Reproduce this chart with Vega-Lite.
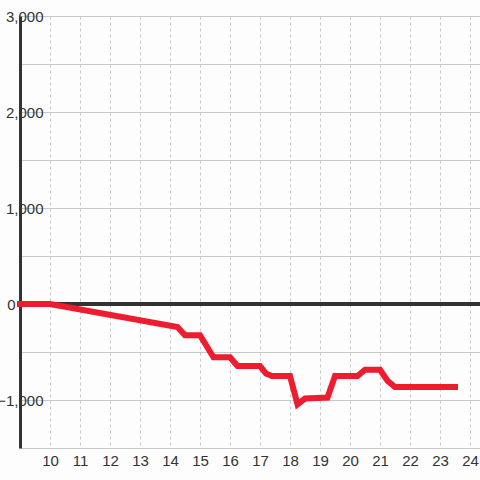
{
  "$schema": "https://vega.github.io/schema/vega-lite/v6.json",
  "width": 460,
  "height": 432,
  "autosize": "none",
  "padding": {"left": 20, "top": 16, "right": 0, "bottom": 32},
  "background": "#fcfdfc",
  "config": {"view": {"stroke": null}, "font": "Liberation Sans"},
  "data": {
    "values": [
      {"hour": 9.0, "value": 0},
      {"hour": 10.0, "value": 0},
      {"hour": 14.25, "value": -240},
      {"hour": 14.5, "value": -325},
      {"hour": 15.0, "value": -325},
      {"hour": 15.45, "value": -555},
      {"hour": 16.0, "value": -555},
      {"hour": 16.25, "value": -645},
      {"hour": 17.0, "value": -645},
      {"hour": 17.2, "value": -725},
      {"hour": 17.4, "value": -750},
      {"hour": 18.0, "value": -750},
      {"hour": 18.25, "value": -1045},
      {"hour": 18.5, "value": -985},
      {"hour": 19.25, "value": -975},
      {"hour": 19.5, "value": -750},
      {"hour": 20.25, "value": -750},
      {"hour": 20.5, "value": -685},
      {"hour": 21.0, "value": -685},
      {"hour": 21.25, "value": -800},
      {"hour": 21.5, "value": -865},
      {"hour": 23.5, "value": -865}
    ]
  },
  "layer": [
    {
      "mark": {"type": "rule", "color": "#333333", "strokeWidth": 3},
      "encoding": {
        "y": {"datum": 0, "type": "quantitative"}
      }
    },
    {
      "mark": {"type": "line", "color": "#ed1c2e", "strokeWidth": 6, "strokeCap": "square", "strokeJoin": "miter"},
      "encoding": {
        "x": {
          "field": "hour",
          "type": "quantitative",
          "scale": {"domain": [9, 24.3333], "nice": false, "zero": false},
          "axis": {
            "title": null,
            "values": [10, 11, 12, 13, 14, 15, 16, 17, 18, 19, 20, 21, 22, 23, 24],
            "grid": true,
            "gridDash": [3, 3],
            "gridColor": "#c8c8c8",
            "ticks": false,
            "domain": false,
            "labelFontSize": 15,
            "labelColor": "#333333",
            "labelPadding": 5,
            "labelFlush": false
          }
        },
        "y": {
          "field": "value",
          "type": "quantitative",
          "scale": {"domain": [-1500, 3000], "nice": false},
          "axis": {
            "title": null,
            "values": [-1500, -1000, -500, 0, 500, 1000, 1500, 2000, 2500, 3000],
            "labelExpr": "datum.value % 1000 === 0 ? format(datum.value, ',') : ''",
            "grid": true,
            "gridColor": "#c8c8c8",
            "ticks": false,
            "domain": true,
            "domainColor": "#333333",
            "domainWidth": 3,
            "labelAlign": "right",
            "labelPadding": {"condition": {"test": "datum.value === 0", "value": 5}, "value": -23},
            "labelFontSize": 15,
            "labelColor": "#333333"
          }
        }
      }
    }
  ]
}
